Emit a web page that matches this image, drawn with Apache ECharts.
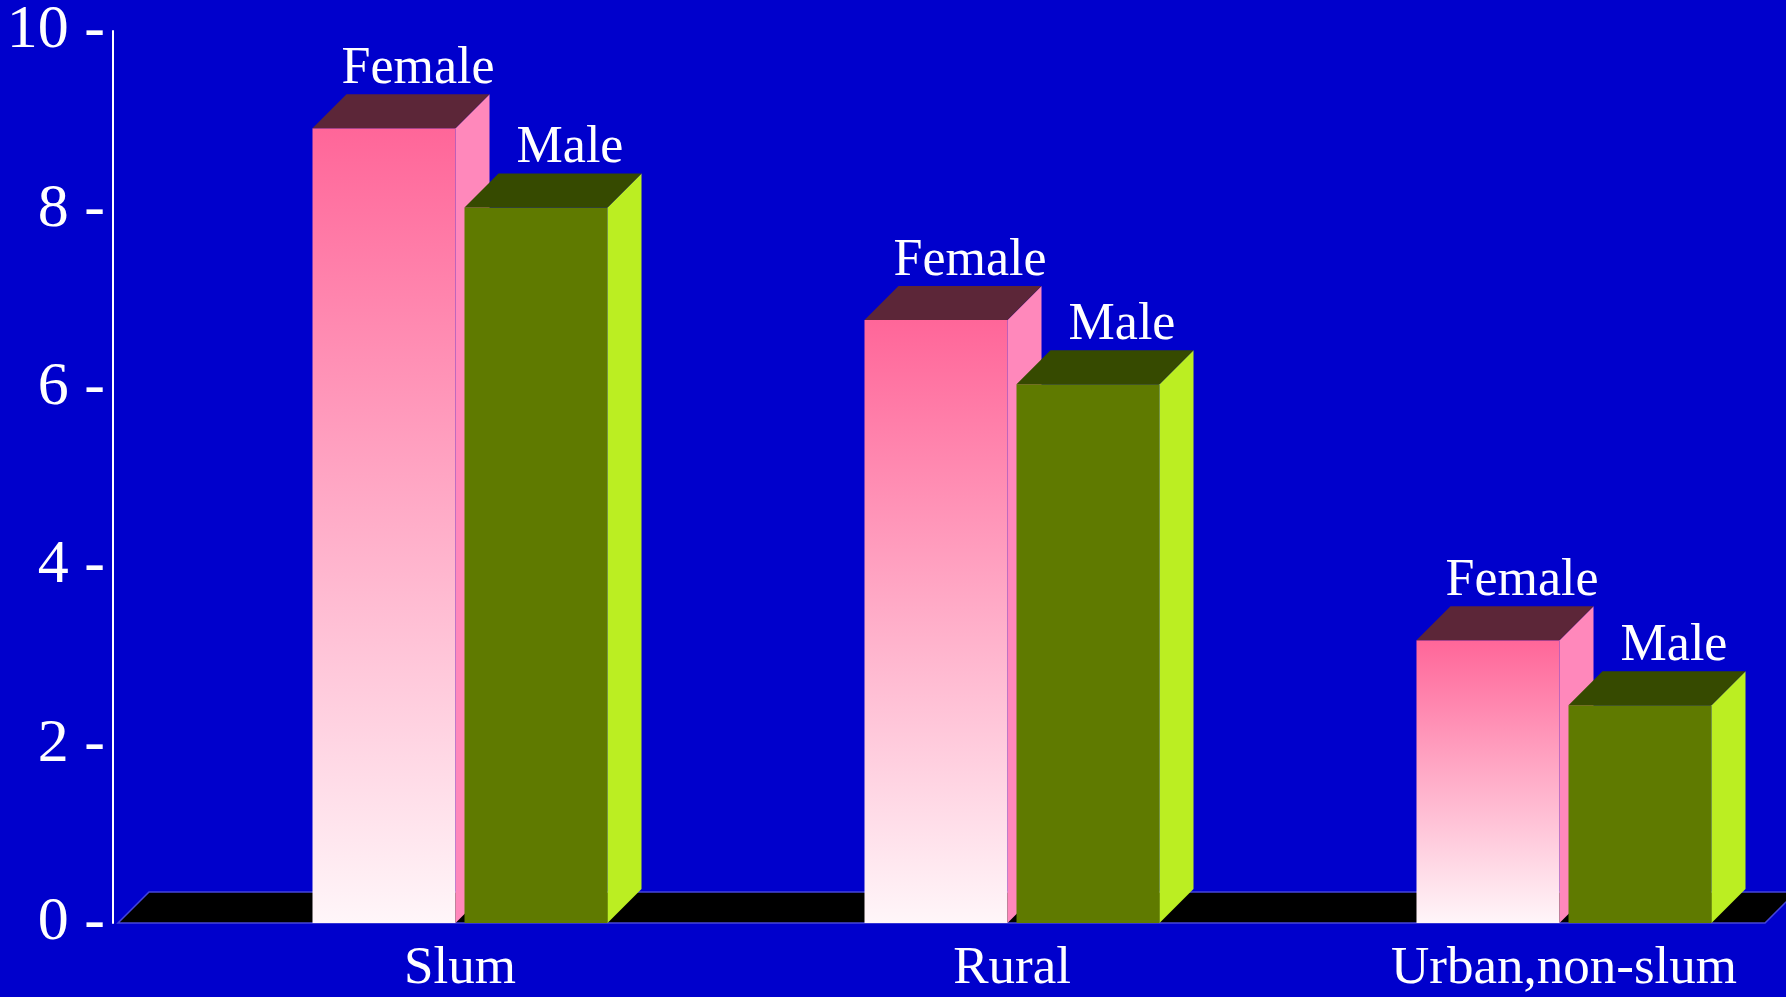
<!DOCTYPE html>
<html>
<head>
<meta charset="utf-8">
<style>
  html, body { margin: 0; padding: 0; background: #0000cc; }
  #chart { width: 1786px; height: 997px; }
</style>
<script src="https://cdn.jsdelivr.net/npm/echarts@6/dist/echarts.min.js"></script>
</head>
<body>
<div id="chart"></div>
<script>
// Prevalence by residence and sex
const categories = ['Slum', 'Rural', 'Urban,non-slum'];
const femaleValues = [8.91, 6.76, 3.17];
const maleValues = [8.02, 6.04, 2.44];
const yMin = 0;
const yMax = 10;
const yStep = 2;

const SERIF = '"Liberation Serif", "Times New Roman", serif';
const BAR_W = 143;      // front face width
const DEPTH = 34;       // 45-degree extrusion of each box
const FLOOR_DEPTH = 31;

const femaleColors = {
  front: new echarts.graphic.LinearGradient(0, 0, 0, 1, [
    { offset: 0, color: '#ff6699' },
    { offset: 1, color: '#fff6f9' }
  ]),
  side: '#ff88bb',
  top: '#5c2638'
};
const maleColors = {
  front: '#5f7a00',
  side: '#bbee22',
  top: '#364a00'
};

// Draws one extruded box: front face, right side face, top face, and the series name above it
function boxRenderer(offsetX, colors) {
  return function (params, api) {
    const top = api.coord([api.value(0), api.value(1)]);
    const base = api.coord([api.value(0), 0]);
    const x0 = top[0] + offsetX;
    const x1 = x0 + BAR_W;
    const yT = top[1];
    const yB = base[1];
    const d = DEPTH;
    return {
      type: 'group',
      children: [
        {
          type: 'rect',
          shape: { x: x0, y: yT, width: BAR_W, height: yB - yT },
          style: { fill: colors.front }
        },
        {
          type: 'polygon',
          shape: { points: [[x1, yT], [x1 + d, yT - d], [x1 + d, yB - d], [x1, yB]] },
          style: { fill: colors.side }
        },
        {
          type: 'polygon',
          shape: { points: [[x0, yT], [x0 + d, yT - d], [x1 + d, yT - d], [x1, yT]] },
          style: { fill: colors.top }
        },
        {
          type: 'text',
          x: x0 + BAR_W / 2 + d,
          y: yT - d + 1,
          style: {
            text: params.seriesName,
            fill: '#ffffff',
            fontSize: 52,
            fontFamily: SERIF,
            align: 'center',
            verticalAlign: 'bottom'
          }
        }
      ]
    };
  };
}

// Black floor slab the boxes stand on
function floorRenderer(params, api) {
  const cs = params.coordSys;
  const yB = api.coord([0, 0])[1];
  const left = cs.x - 342;
  const right = cs.x + cs.width + 201;
  const f = FLOOR_DEPTH;
  return {
    type: 'polygon',
    shape: { points: [[left, yB], [left + f, yB - f], [right + f, yB - f], [right, yB]] },
    style: { fill: '#000000', stroke: '#4646d8', lineWidth: 1.5 }
  };
}

const chart = echarts.init(document.getElementById('chart'), null, { renderer: 'canvas' });

chart.setOption({
  backgroundColor: '#0000cc',
  animation: false,
  grid: { left: 460, right: 222, top: 31, bottom: 74, containLabel: false },
  xAxis: {
    type: 'category',
    data: categories,
    boundaryGap: false,
    axisLine: { show: false },
    axisTick: { show: false },
    axisLabel: {
      interval: 0,
      color: '#ffffff',
      fontSize: 53,
      fontFamily: SERIF,
      margin: 20
    },
    splitLine: { show: false }
  },
  yAxis: {
    type: 'value',
    min: yMin,
    max: yMax,
    interval: yStep,
    position: 'left',
    offset: 347,
    axisLine: { show: true, lineStyle: { color: '#ffffff', width: 2 } },
    axisTick: { show: false },
    axisLabel: {
      color: '#ffffff',
      fontSize: 62,
      fontFamily: SERIF,
      margin: 8,
      formatter: '{value} -'
    },
    splitLine: { show: false }
  },
  series: [
    {
      name: 'floor',
      type: 'custom',
      silent: true,
      renderItem: floorRenderer,
      data: [[categories[0], 0]],
      encode: { x: 0, y: 1 },
      z: 1
    },
    {
      name: 'Female',
      type: 'custom',
      renderItem: boxRenderer(-147.5, femaleColors),
      data: categories.map((c, i) => [c, femaleValues[i]]),
      encode: { x: 0, y: 1 },
      z: 2
    },
    {
      name: 'Male',
      type: 'custom',
      renderItem: boxRenderer(4.5, maleColors),
      data: categories.map((c, i) => [c, maleValues[i]]),
      encode: { x: 0, y: 1 },
      z: 3
    }
  ]
});
</script>
</body>
</html>
